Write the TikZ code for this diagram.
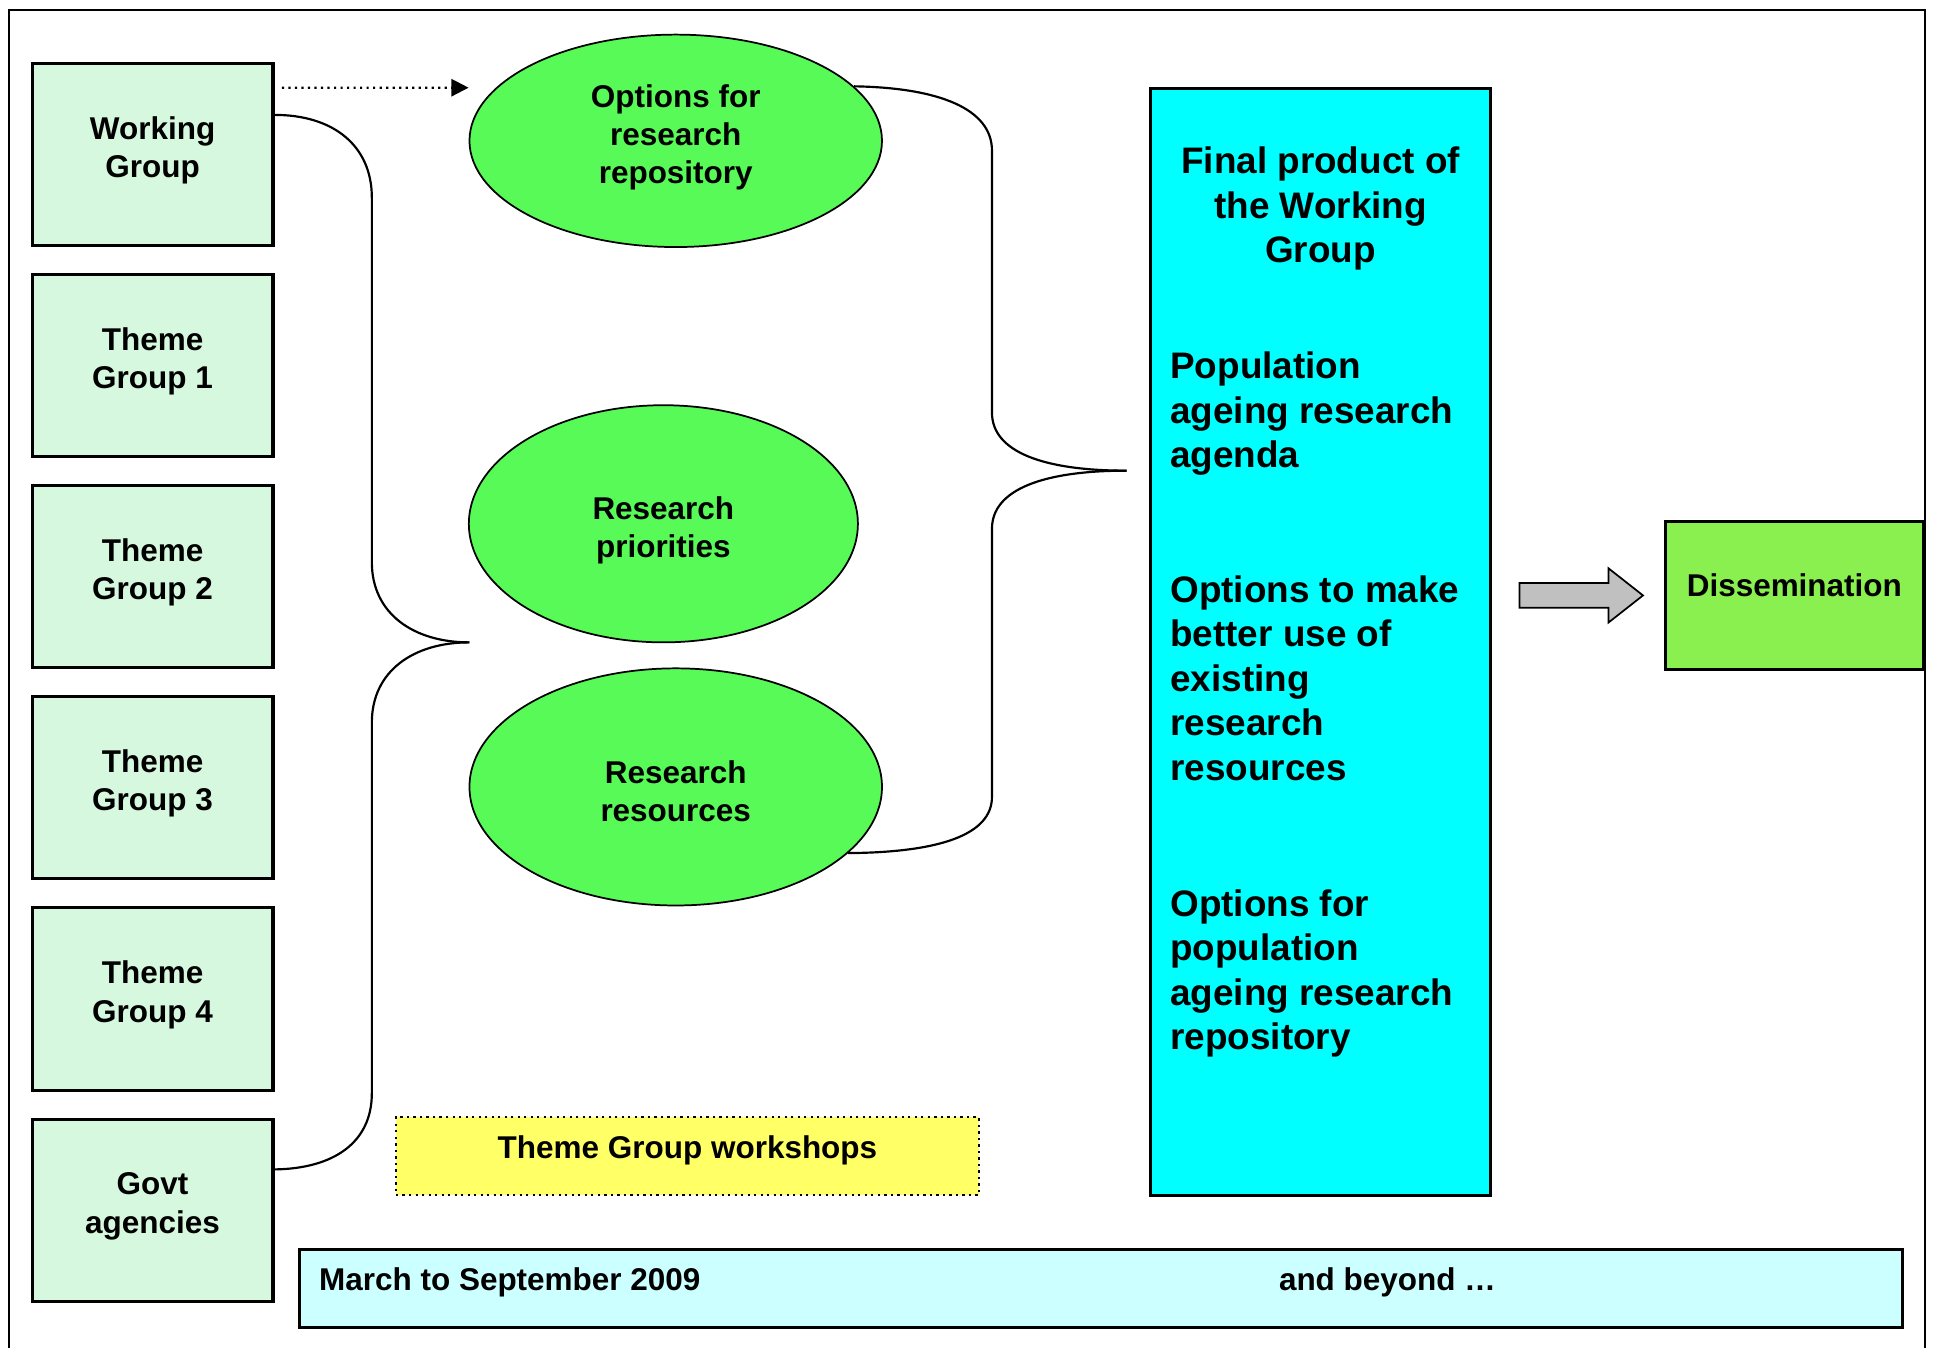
\documentclass[tikz,border=0pt]{standalone}
\usepackage{fontspec}
\setmainfont{Liberation Sans}
\usetikzlibrary{positioning, arrows.meta, shapes.geometric}

\definecolor{groupgreen}{RGB}{214,248,222}
\definecolor{blobgreen}{RGB}{88,250,88}
\definecolor{finalcyan}{RGB}{0,255,255}
\definecolor{dissgreen}{RGB}{138,240,80}
\definecolor{workyellow}{RGB}{255,255,102}
\definecolor{periodcyan}{RGB}{204,255,255}
\definecolor{arrowgray}{RGB}{192,192,192}

\begin{document}
\begin{tikzpicture}[x=0.02cm, y=-0.02cm, node distance=0.42cm,
    box/.style={rectangle, draw, line width=1.4pt, fill=groupgreen, minimum width=3.9cm, minimum height=2.95cm, align=center, text height=0.85cm, font=\bfseries\fontsize{14.5}{17.6}\selectfont},
    blob/.style={ellipse, draw, line width=0.8pt, fill=blobgreen, align=center, font=\bfseries\fontsize{14.5}{17.6}\selectfont},
    bigtext/.style={inner sep=0, font=\bfseries\fontsize{17}{20.5}\selectfont},
    brace/.style={line width=1pt}]
\useasboundingbox (0,0) rectangle (1568,1091);
% Frame
\draw[line width=0.8pt] (7,1091) -- (7,8) -- (1558,8) -- (1558,1091);

% Nodes
\node (wg) [box] at (123.5,125) {Working\\Group};
\node (tg1) [box, below=of wg] {Theme\\Group 1};
\node (tg2) [box, below=of tg1] {Theme\\Group 2};
\node (tg3) [box, below=of tg2] {Theme\\Group 3};
\node (tg4) [box, below=of tg3] {Theme\\Group 4};
\node (govt) [box, below=of tg4] {Govt\\agencies};

\node (e1) [blob, minimum width=6.68cm, minimum height=3.44cm, text height=1.49cm] at (547,114) {Options for\\research\\repository};
\node (e2) [blob, minimum width=6.3cm, minimum height=3.84cm, text height=1.21cm] at (537,424) {Research\\priorities};
\node (e3) [blob, minimum width=6.68cm, minimum height=3.84cm, text height=1.13cm] at (547,637) {Research\\resources};

\node (final) [rectangle, draw, line width=1.4pt, fill=finalcyan, minimum width=5.5cm, minimum height=17.92cm] at (1069,519.5) {};
\node (fp) [bigtext, align=center] at (1069,169) {Final product of\\the Working\\Group};
\node (agenda) [bigtext, align=left, anchor=west] at (947,335) {Population\\ageing research\\agenda};
\node (betteruse) [bigtext, align=left, anchor=west] at (947,549) {Options to make\\better use of\\existing\\research\\resources};
\node (repo) [bigtext, align=left, anchor=west] at (947,788) {Options for\\population\\ageing research\\repository};

\node (diss) [rectangle, draw, line width=1.4pt, fill=dissgreen, minimum width=4.18cm, minimum height=2.4cm, text depth=0.33cm, font=\bfseries\fontsize{14.5}{17.6}\selectfont] at (1452.5,482) {Dissemination};

\node (workshops) [rectangle, draw, dotted, line width=1pt, fill=workyellow, minimum width=9.44cm, minimum height=1.26cm, text depth=0.29cm, font=\bfseries\fontsize{14.5}{17.6}\selectfont] at (556.5,936) {Theme Group workshops};

\node (period) [rectangle, draw, line width=1.4pt, fill=periodcyan, minimum width=25.96cm, minimum height=1.26cm] at (891.5,1043) {};
\node (march) [anchor=west, inner sep=0, font=\bfseries\fontsize{14.5}{17.6}\selectfont] at (258,1038) {March to September 2009};
\node (beyond) [anchor=west, inner sep=0, font=\bfseries\fontsize{14.5}{17.6}\selectfont] at (1035,1038) {and beyond …};

\coordinate (lcusp) at (380,520);
\coordinate (rcusp) at (912,381);

% Arrows
\draw[-{Triangle[length=0.28cm, width=0.28cm]}, dotted, line width=1pt] ([xshift=0.12cm, yshift=1.08cm]wg.east) -- (e1.west |- 0,71);

\draw[brace] ([yshift=0.64cm]wg.east) .. controls (270,93) and (301,118) .. (301,160) -- (301,455) .. controls (301,497) and (335,520) .. (lcusp);
\draw[brace] (lcusp) .. controls (335,520) and (301,543) .. (301,585) -- (301,885) .. controls (301,925) and (270,946) .. ([yshift=0.66cm]govt.east);

\draw[brace] (e1.17) .. controls (760,71) and (803,88) .. (803,122) -- (803,334) .. controls (803,366) and (845,381) .. (rcusp);
\draw[brace] (rcusp) .. controls (845,381) and (803,396) .. (803,428) -- (803,645) .. controls (803,676) and (760,690) .. (e3.-21);

\draw[line width=0.8pt, fill=arrowgray] (1230,472) -- (1302,472) -- (1302,460) -- (1330,482) -- (1302,504) -- (1302,492) -- (1230,492) -- cycle;
\end{tikzpicture}
\end{document}
